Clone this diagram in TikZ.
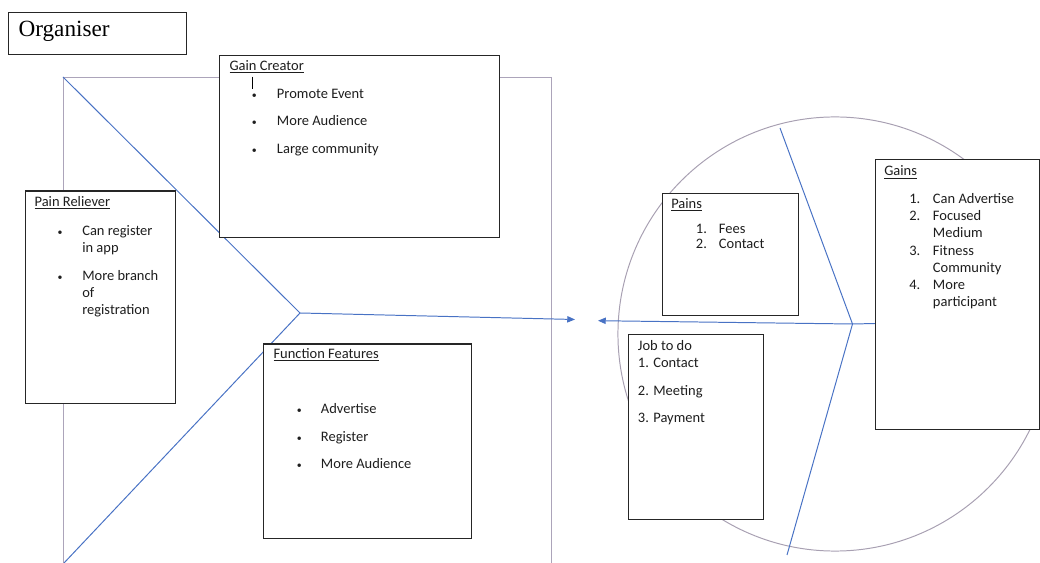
\documentclass[tikz,border=0pt]{standalone}
\usepackage{fontspec}
\setmainfont{Carlito}
\newfontfamily\headfont{Liberation Serif}
\usepackage{tikz}
\usetikzlibrary{arrows.meta, positioning, calc}

\definecolor{framegray}{RGB}{172,164,186}
\definecolor{ringgray}{RGB}{168,160,178}
\definecolor{linkblue}{RGB}{72,114,196}
\definecolor{inkgray}{RGB}{30,30,30}

\begin{document}
\begin{tikzpicture}[
        x=0.025cm, y=-0.025cm,
        box/.style={rectangle, draw=black!85, fill=white, line width=0.8pt, anchor=north west, inner sep=0pt},
        frame/.style={draw=framegray, line width=0.7pt},
        ring/.style={draw=ringgray, line width=0.7pt},
        link/.style={draw=linkblue, line width=0.7pt},
        arrowlink/.style={link, -{Triangle[length=5.5pt, width=4.5pt]}},
        txt/.style={anchor=base west, inner sep=0pt, text=inkgray, font=\fontsize{10.3}{12}\selectfont},
        dot/.style={anchor=base, inner sep=0pt, text=inkgray, font=\fontsize{7}{7}\selectfont}
    ]
        \useasboundingbox (0,0) rectangle (1040,563);

        % Value map frame and connectors
        \draw[frame] (63,563) -- (63,77) -- (551,77) -- (551,563);
        \coordinate (hubL) at (300,313);
        \coordinate (topL) at (63,77);
        \coordinate (botL) at (64,563);
        \coordinate (tipL) at (575,319.5);
        \draw[link] (topL) -- (hubL) -- (botL);
        \draw[arrowlink] (hubL) -- (tipL);

        % Customer profile circle and connectors
        \node[ring, circle, minimum size=10.85cm, inner sep=0pt] (profile) at (835,334) {};
        \coordinate (hubR) at (852.5,324);
        \coordinate (topR) at (780,128);
        \coordinate (botR) at (787,555);
        \coordinate (tipR) at (598,320.7);
        \coordinate (gainsedge) at (875,323.5);
        \draw[link] (topR) -- (hubR) -- (botR);
        \draw[link] (gainsedge) -- (hubR);
        \draw[arrowlink] (hubR) -- (tipR);

        % Title
        \node[box, minimum width=4.45cm, minimum height=1.05cm] (organiser) at (8,12) {};
        \node[anchor=base west, inner sep=0pt, font=\headfont\fontsize{16.5}{18}\selectfont] (orgtext) at (18.3,36.5) {Organiser};

        % Gain Creator
        \node[box, minimum width=7cm, minimum height=4.55cm] (gaincreator) at (219,55) {};
        \node[txt] (gctitle) at (229.3,70.7) {\underline{Gain Creator}};
        \draw[black, line width=0.6pt] (252.3,76.7) -- (252.3,89.3);
        \node[dot] (gc1dot) at (254.3,98.3) {•};
        \node[txt] (gc1) at (276.7,98.3) {Promote Event};
        \node[dot] (gc2dot) at (254.3,126) {•};
        \node[txt] (gc2) at (276.7,126) {More Audience};
        \node[dot] (gc3dot) at (254.3,153.5) {•};
        \node[txt] (gc3) at (276.7,153.5) {Large community};

        % Pain Reliever
        \node[box, minimum width=3.7625cm, minimum height=5.3cm] (painreliever) at (24.5,190.5) {};
        \node[txt] (prtitle) at (34.3,206.7) {\underline{Pain Reliever}};
        \node[dot] (pr1dot) at (60,235.7) {•};
        \node[txt] (pr1a) at (82,235.7) {Can register};
        \node[txt] (pr1b) at (82,252.2) {in app};
        \node[dot] (pr2dot) at (60,280.7) {•};
        \node[txt] (pr2a) at (82,280.7) {More branch};
        \node[txt] (pr2b) at (82,297.8) {of};
        \node[txt] (pr2c) at (82,315) {registration};

        % Function Features
        \node[box, minimum width=5.2cm, minimum height=4.87cm] (features) at (263.3,343.5) {};
        \node[txt] (fftitle) at (273.3,358.3) {\underline{Function Features}};
        \node[dot] (ff1dot) at (299.3,414) {•};
        \node[txt] (ff1) at (320.7,414) {Advertise};
        \node[dot] (ff2dot) at (299.3,441.7) {•};
        \node[txt] (ff2) at (320.7,441.7) {Register};
        \node[dot] (ff3dot) at (299.3,468.3) {•};
        \node[txt] (ff3) at (320.7,468.3) {More Audience};

        % Pains
        \node[box, minimum width=3.4cm, minimum height=3.06cm] (pains) at (661.7,192.7) {};
        \node[txt] (pntitle) at (671,208.3) {\underline{Pains}};
        \node[txt] (pn1n) at (695.7,233.3) {1.};
        \node[txt] (pn1) at (718.7,233.3) {Fees};
        \node[txt] (pn2n) at (695.7,248.3) {2.};
        \node[txt] (pn2) at (718.7,248.3) {Contact};

        % Gains
        \node[box, minimum width=4.11cm, minimum height=6.75cm] (gains) at (875,159.3) {};
        \node[txt] (gntitle) at (884,176) {\underline{Gains}};
        \node[txt] (gn1n) at (909,204) {1.};
        \node[txt] (gn1) at (932.7,204) {Can Advertise};
        \node[txt] (gn2n) at (909,220.9) {2.};
        \node[txt] (gn2a) at (932.7,220.9) {Focused};
        \node[txt] (gn2b) at (932.7,237.9) {Medium};
        \node[txt] (gn3n) at (909,255.4) {3.};
        \node[txt] (gn3a) at (932.7,255.4) {Fitness};
        \node[txt] (gn3b) at (932.7,272.7) {Community};
        \node[txt] (gn4n) at (909,290) {4.};
        \node[txt] (gn4a) at (932.7,290) {More};
        \node[txt] (gn4b) at (932.7,306.9) {participant};

        % Job to do
        \node[box, minimum width=3.375cm, minimum height=4.61cm] (jobs) at (628.3,334.3) {};
        \node[txt] (jbtitle) at (637.7,351) {Job to do};
        \node[txt] (jb1) at (637.7,367.7) {1. Contact};
        \node[txt] (jb2) at (637.7,395.7) {2. Meeting};
        \node[txt] (jb3) at (637.7,422.7) {3. Payment};
    \end{tikzpicture}
\end{document}
